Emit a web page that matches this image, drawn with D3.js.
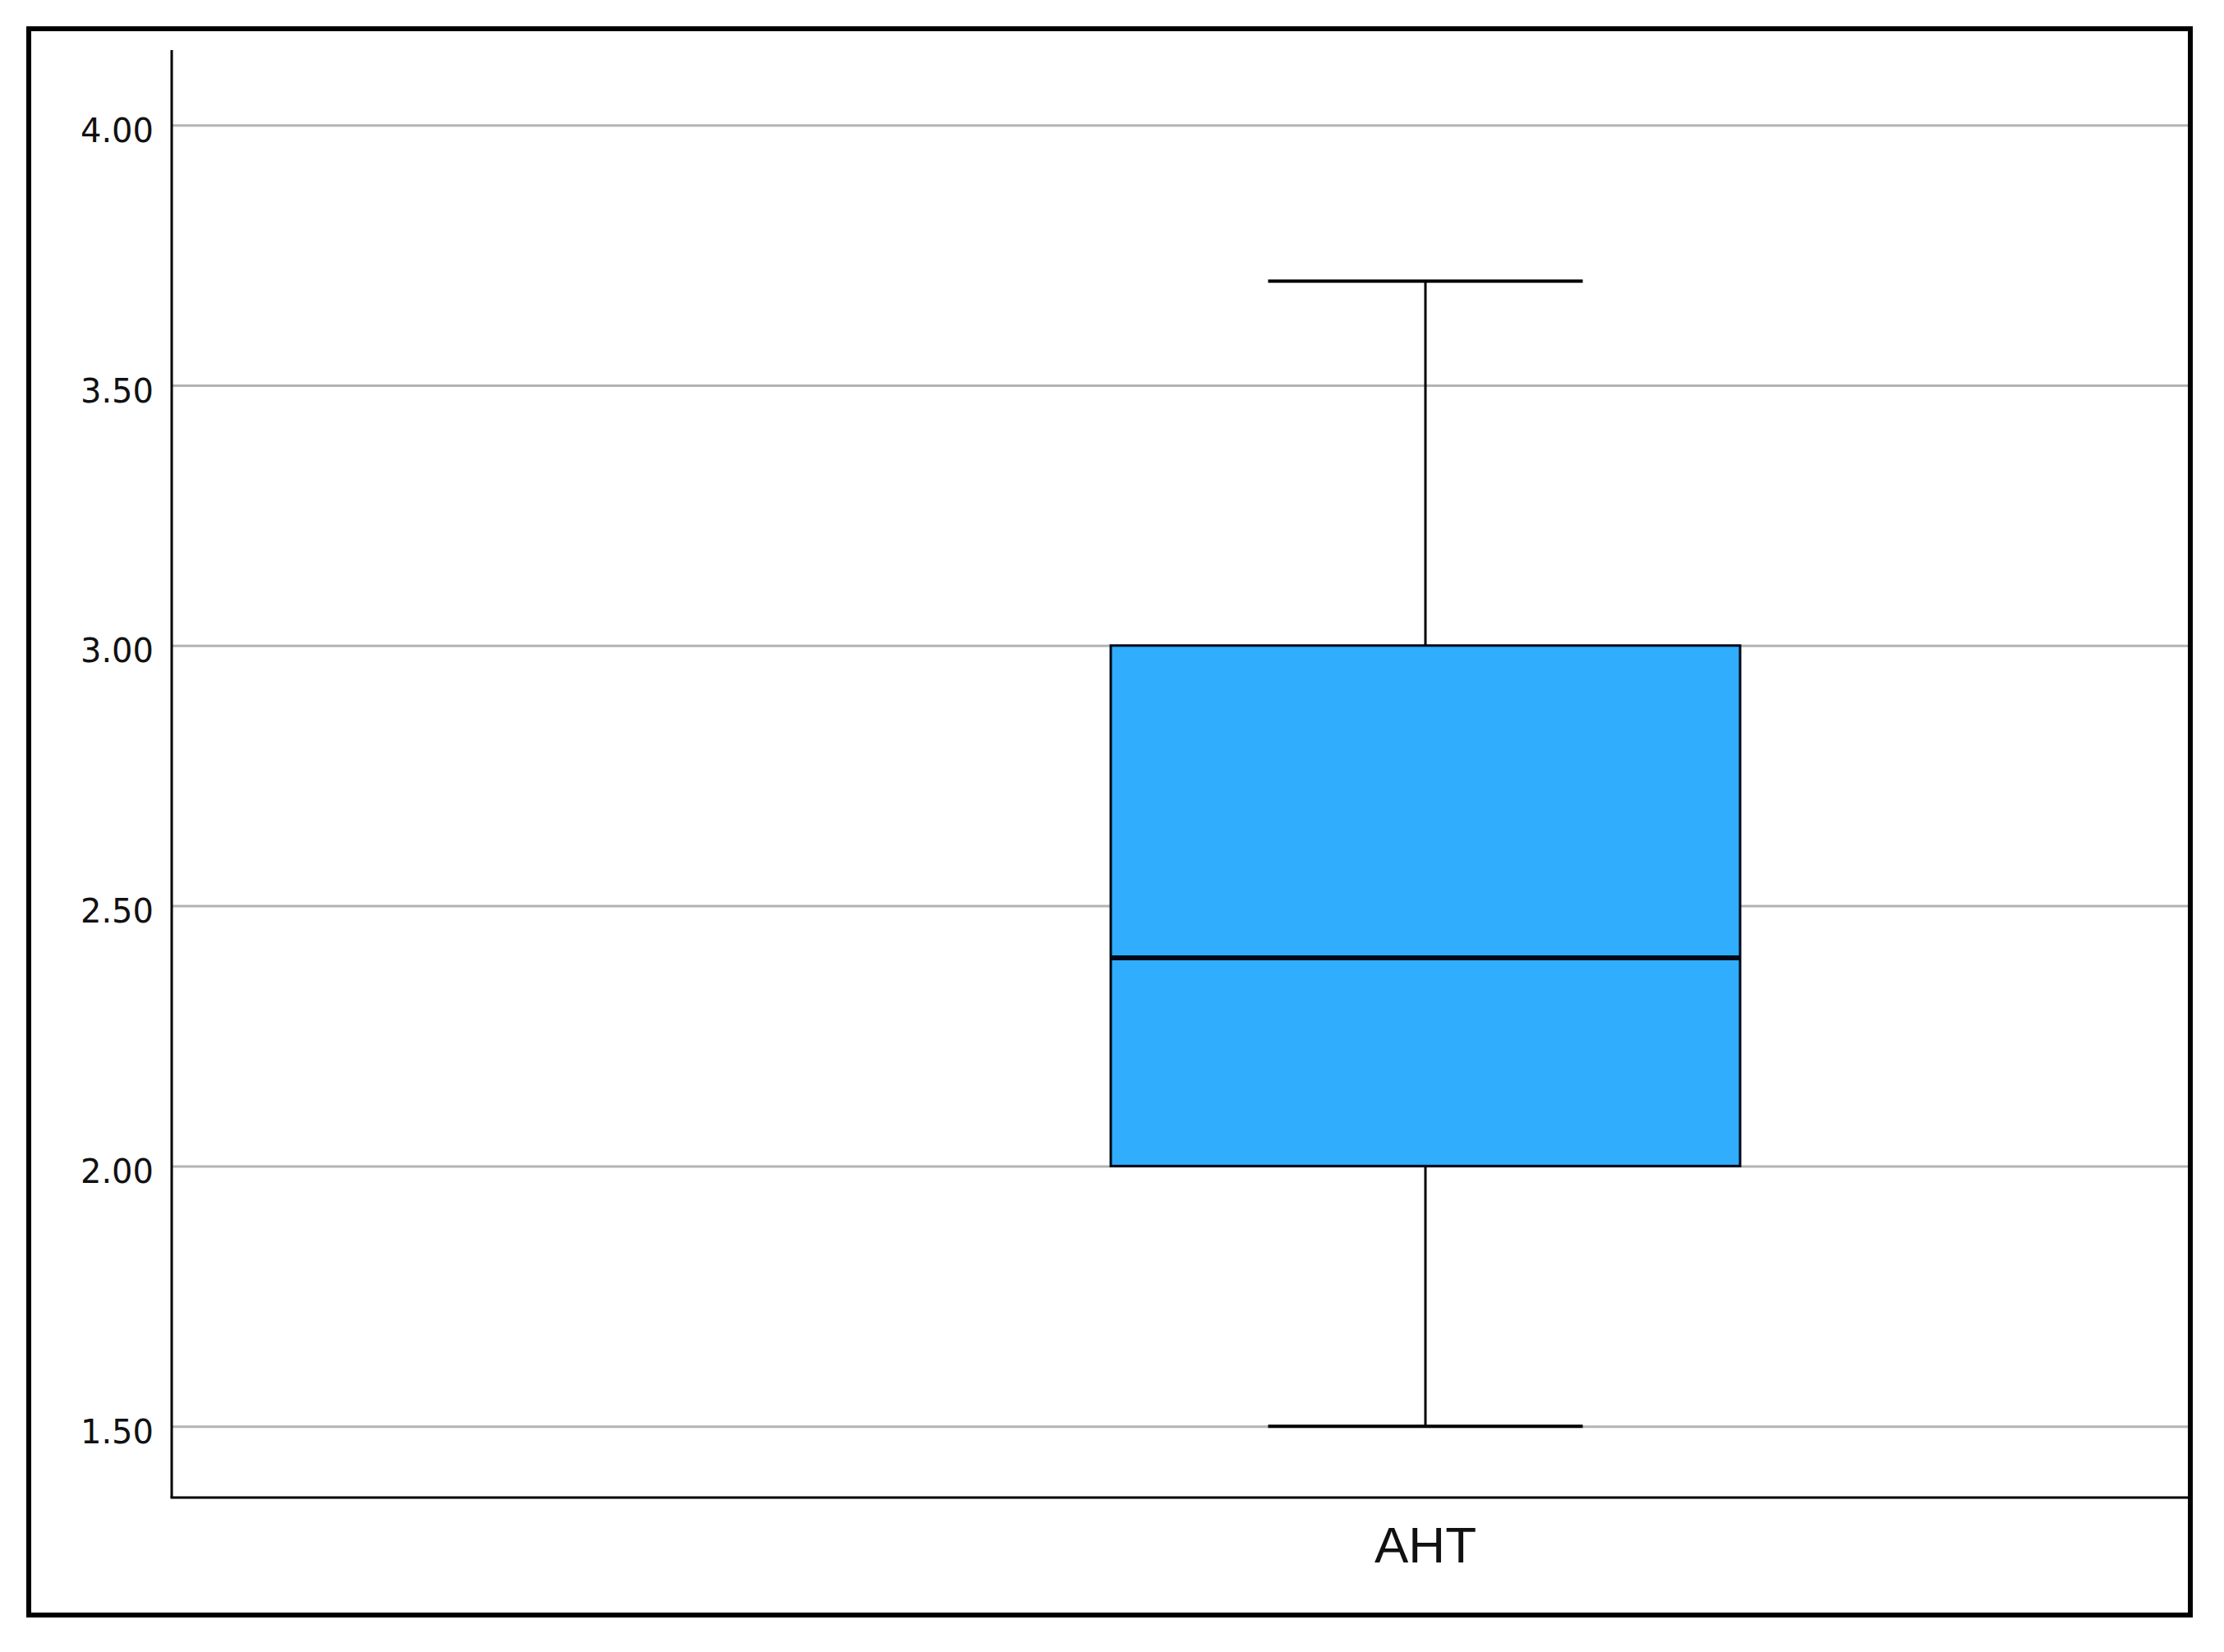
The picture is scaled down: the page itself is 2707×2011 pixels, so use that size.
<!DOCTYPE html>
<html>
<head>
<meta charset="utf-8">
<script src="https://cdn.jsdelivr.net/npm/d3@7"></script>
<style>
  body { margin: 0; background: #fff; }
</style>
</head>
<body>
<div id="chart"></div>
<script>
// box plot data
var categories = ['AHT'];
var whiskerLow = [1.50];
var q1 = [2.00];
var median = [2.40];
var q3 = [3.00];
var whiskerHigh = [3.70];
var yTicks = [1.50, 2.00, 2.50, 3.00, 3.50, 4.00];

var W = 2707, H = 2011;
var plotLeft = 209, plotRight = 2663, plotTop = 61, plotBottom = 1823;

var svg = d3.select('#chart').append('svg')
    .attr('width', W)
    .attr('height', H)
    .style('display', 'block');

svg.append('rect').attr('width', W).attr('height', H).attr('fill', '#fff');

// outer frame
svg.append('rect')
    .attr('x', 35).attr('y', 35)
    .attr('width', 2631).attr('height', 1931)
    .attr('fill', 'none')
    .attr('stroke', '#000')
    .attr('stroke-width', 6);

var y = d3.scaleLinear()
    .domain([1.363, 4.144])
    .range([plotBottom, plotTop]);

// band for the single category; box spans the band
var x = d3.scaleBand()
    .domain(categories)
    .range([1352, 2118])
    .padding(0);

// gridlines
var grid = svg.append('g')
    .attr('transform', 'translate(' + plotLeft + ',0)')
    .call(d3.axisRight(y).tickValues(yTicks).tickSize(plotRight - plotLeft).tickFormat(''));
grid.select('.domain').remove();
grid.selectAll('line').attr('stroke', '#b3b3b3').attr('stroke-width', 3);

// tick labels
var yAxis = svg.append('g')
    .attr('transform', 'translate(' + plotLeft + ',0)')
    .call(d3.axisLeft(y).tickValues(yTicks).tickSize(0).tickPadding(22).tickFormat(d3.format('.2f')));
yAxis.select('.domain').remove();
yAxis.selectAll('text')
    .attr('font-family', 'DejaVu Sans')
    .attr('font-size', 40)
    .attr('fill', '#111')
    .attr('dy', '0.5em');

// axis lines
svg.append('line')
    .attr('x1', plotLeft).attr('x2', plotLeft)
    .attr('y1', plotTop).attr('y2', plotBottom)
    .attr('stroke', '#000').attr('stroke-width', 3);
svg.append('line')
    .attr('x1', plotLeft - 1.5).attr('x2', plotRight)
    .attr('y1', plotBottom).attr('y2', plotBottom)
    .attr('stroke', '#000').attr('stroke-width', 3);

// boxes
var g = svg.append('g');
categories.forEach(function (c, i) {
    var x0 = x(c), bw = x.bandwidth(), cx = x0 + bw / 2;
    var capW = bw / 2;
    // whiskers
    g.append('line')
        .attr('x1', cx).attr('x2', cx)
        .attr('y1', y(whiskerHigh[i])).attr('y2', y(q3[i]))
        .attr('stroke', '#000').attr('stroke-width', 3);
    g.append('line')
        .attr('x1', cx).attr('x2', cx)
        .attr('y1', y(q1[i])).attr('y2', y(whiskerLow[i]))
        .attr('stroke', '#000').attr('stroke-width', 3);
    g.append('line')
        .attr('x1', cx - capW / 2).attr('x2', cx + capW / 2)
        .attr('y1', y(whiskerHigh[i])).attr('y2', y(whiskerHigh[i]))
        .attr('stroke', '#000').attr('stroke-width', 4);
    g.append('line')
        .attr('x1', cx - capW / 2).attr('x2', cx + capW / 2)
        .attr('y1', y(whiskerLow[i])).attr('y2', y(whiskerLow[i]))
        .attr('stroke', '#000').attr('stroke-width', 4);
    // box
    g.append('rect')
        .attr('x', x0).attr('y', y(q3[i]))
        .attr('width', bw).attr('height', y(q1[i]) - y(q3[i]))
        .attr('fill', '#30adfc')
        .attr('stroke', '#000818').attr('stroke-width', 3);
    // median
    g.append('line')
        .attr('x1', x0).attr('x2', x0 + bw)
        .attr('y1', y(median[i])).attr('y2', y(median[i]))
        .attr('stroke', '#000818').attr('stroke-width', 6);
    // category label
    svg.append('text')
        .attr('x', cx).attr('y', 1902)
        .attr('text-anchor', 'middle')
        .attr('font-family', 'Liberation Sans')
        .attr('font-size', 62)
        .attr('fill', '#111')
        .text(c);
});
</script>
</body>
</html>
